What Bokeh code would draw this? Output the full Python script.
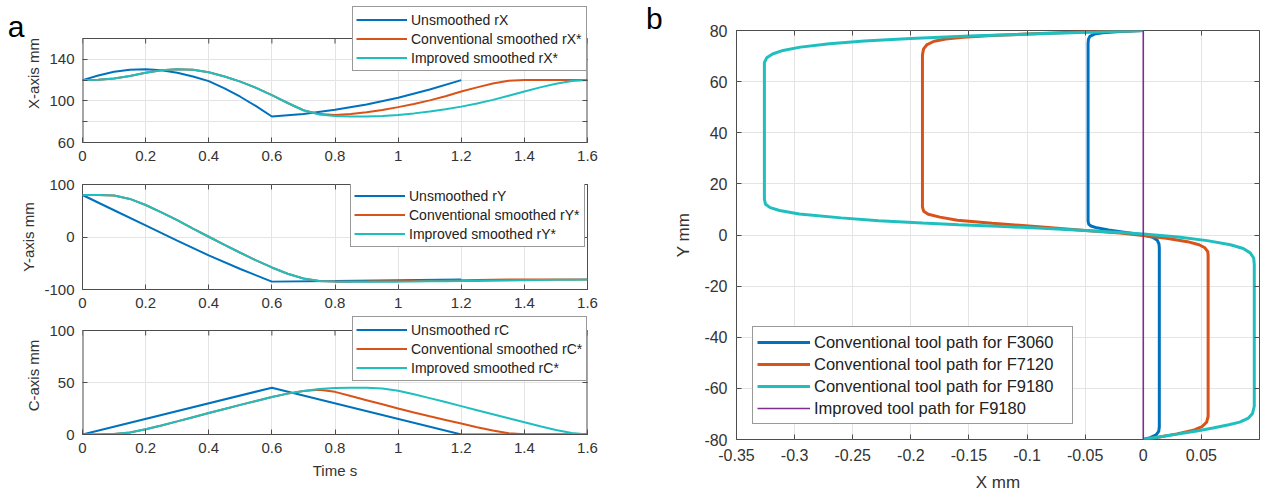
from bokeh.plotting import figure
from bokeh.models import (Range1d, FixedTicker, LinearAxis, Legend, LegendItem, Div,
                          BoxAnnotation, Span)
from bokeh.layouts import row, column
from bokeh.embed import file_html
from bokeh.resources import INLINE

# ---------------- data: panel a ----------------
time_ticks = [0, 0.2, 0.4, 0.6, 0.8, 1.0, 1.2, 1.4, 1.6]
time_labels = ["0", "0.2", "0.4", "0.6", "0.8", "1", "1.2", "1.4", "1.6"]

t_sm = [0, 0.05, 0.1, 0.15, 0.2, 0.25, 0.3, 0.35, 0.4, 0.45, 0.5, 0.55, 0.6, 0.65, 0.7,
        0.75, 0.8, 0.85, 0.9, 0.95, 1.0, 1.05, 1.1, 1.15, 1.2, 1.25, 1.3, 1.35, 1.4,
        1.45, 1.5, 1.55, 1.6]

t_x_un = [0, 0.05, 0.1, 0.15, 0.2, 0.25, 0.3, 0.35, 0.4, 0.45, 0.5, 0.55, 0.6, 0.7, 0.8,
          0.9, 1.0, 1.1, 1.2]
rx_un = [120, 124.5, 128, 130, 130.5, 129.5, 127, 123.5, 119, 112, 104, 95, 85, 87.5, 91.5,
         96.5, 103, 111, 120]
rx_conv = [120, 120.3, 121.5, 124, 127, 129.5, 130.5, 130, 127.5, 123.5, 118.5, 112.5, 105.5,
           98, 91, 87.3, 86.5, 87.3, 89, 91.3, 94, 97, 100.5, 104.5, 109, 113, 116.8, 119.4,
           120, 120, 120, 120, 120]
rx_impr = [120, 120.3, 121.5, 124, 127, 129.5, 130.5, 130, 127.5, 123.5, 118.5, 112.5, 105.5,
           98, 91, 87, 85.5, 85, 85, 85.5, 86.5, 88, 89.8, 92, 94.5, 97.5, 101, 105, 109,
           113, 116.5, 119.2, 120]

t_y_un = [0, 0.1, 0.2, 0.3, 0.4, 0.5, 0.6, 0.8, 1.0, 1.2]
ry_un = [80, 51, 22, -7, -35, -61, -85, -84, -82.5, -81]
ry_conv = [80, 80, 79, 72.5, 61, 47, 32, 16, 0.5, -15, -30, -44.5, -58, -70, -79, -84, -85,
           -85, -84.8, -84.5, -84.2, -83.8, -83.4, -83, -82.5, -82, -81.5, -81, -81, -81,
           -81, -81, -81]
ry_impr = [80, 80, 79, 72.5, 61, 47, 32, 16, 0.5, -15, -30, -44.5, -58, -70, -79, -84, -85,
           -85.2, -85.2, -85, -85, -84.8, -84.5, -84.2, -84, -83.6, -83.2, -82.8, -82.4, -82,
           -81.6, -81.2, -81]

t_c_un = [0, 0.6, 1.2, 1.6]
rc_un = [0, 45, 0, 0]
rc_conv = [0, 0, 0.4, 2, 5, 8.7, 12.6, 16.6, 20.6, 24.6, 28.5, 32.3, 36, 39.3, 41.8, 43, 41,
           37, 33, 29, 25, 21.2, 17.5, 14, 10.5, 7, 3.8, 1.3, 0.2, 0, 0, 0, 0]
rc_impr = [0, 0, 0.4, 2, 5, 8.7, 12.6, 16.6, 20.6, 24.6, 28.5, 32.3, 36, 39.3, 41.8, 43.8,
           44.8, 45, 45, 44.2, 42, 38.7, 35, 31.2, 27.3, 23.4, 19.5, 15.6, 11.7, 7.9, 4.4,
           1.5, 0]

x_axis_ticks = [60, 80, 100, 120, 140, 160]
x_axis_labels = ["60", "", "100", "", "140", ""]
y_axis_ticks = [-100, 0, 100]
y_axis_labels = ["-100", "0", "100"]
c_axis_ticks = [0, 50, 100]
c_axis_labels = ["0", "50", "100"]

# ---------------- data: panel b ----------------
x_f3060 = [0, -0.02, -0.035, -0.042, -0.046, -0.0472, -0.0475, -0.0475, -0.047, -0.045, -0.04,
           -0.03, -0.015, 0, 0.008, 0.012, 0.0135, 0.0138, 0.0138, 0.0133, 0.011, 0.006, 0]
y_f3060 = [80, 79.6, 79.1, 78.6, 77.7, 76.5, 75, 5.5, 4.3, 3.5, 2.8, 2.0, 1.0, 0, -0.9, -2.0,
           -3.5, -5, -75, -76.8, -78.2, -79.3, -80]
x_f7120 = [0, -0.03, -0.06, -0.1, -0.13, -0.155, -0.17, -0.18, -0.186, -0.189, -0.19, -0.19,
           -0.189, -0.185, -0.175, -0.16, -0.13, -0.09, -0.05, -0.02, 0, 0.02, 0.038, 0.048,
           0.053, 0.0555, 0.0558, 0.0558, 0.0545, 0.0505, 0.043, 0.029, 0.014, 0]
y_f7120 = [80, 79.7, 79.3, 78.6, 78.0, 77.4, 76.7, 75.8, 74.5, 72.8, 70.5, 11, 9.3, 8.1, 7.0,
           5.8, 4.6, 3.2, 1.8, 0.8, -0.2, -1.3, -2.6, -3.8, -5.0, -6.5, -8, -71, -73.2, -75,
           -76.4, -77.8, -79, -80]
x_f9180 = [0, -0.04, -0.09, -0.15, -0.2, -0.24, -0.27, -0.295, -0.31, -0.319, -0.324, -0.326,
           -0.326, -0.325, -0.321, -0.313, -0.296, -0.26, -0.2277, -0.19, -0.159, -0.12,
           -0.0907, -0.05, -0.02, 0, 0.03, 0.055, 0.075, 0.086, 0.092, 0.095, 0.0955, 0.0955,
           0.094, 0.0905, 0.083, 0.0736, 0.06, 0.046, 0.028, 0.012, 0]
y_f9180 = [80, 79.4, 78.7, 77.8, 76.9, 75.9, 74.8, 73.5, 72.2, 70.8, 69.3, 67.5, 14, 12, 10.7,
           9.6, 8.2, 6.7, 5.6, 4.7, 4.0, 3.3, 2.7, 1.8, 1.0, 0.4, -0.8, -2.2, -3.8, -5.3, -7,
           -9, -11.5, -67, -69.8, -71.6, -73.2, -74.2, -75.5, -76.7, -78, -79.1, -80]
x_impr = [0, 0]
y_impr = [-80, 80]

b_x_ticks = [-0.35, -0.3, -0.25, -0.2, -0.15, -0.1, -0.05, 0, 0.05]
b_x_labels = ["-0.35", "-0.3", "-0.25", "-0.2", "-0.15", "-0.1", "-0.05", "0", "0.05"]
b_y_ticks = [-80, -60, -40, -20, 0, 20, 40, 60, 80]
b_y_labels = ["-80", "-60", "-40", "-20", "0", "20", "40", "60", "80"]

# ---------------- styles ----------------
FONT = "Liberation Sans"
AXC = "#4d4d4d"
TXT = "#333333"
GRID = "#e4e4e4"
BLUE = "#0072BD"
ORANGE = "#D95319"
CYAN = "#1FBFBF"
PURPLE = "#7E2F8E"


def style(p, xt, xl, yt, yl, fs, std):
    p.background_fill_color = "white"
    p.border_fill_color = "white"
    p.outline_line_color = AXC
    p.outline_line_width = 1
    for ax in (p.below[0], p.left[0]):
        ax.axis_line_color = None
        ax.major_tick_in = 5
        ax.major_tick_out = 0
        ax.major_tick_line_color = AXC
        ax.minor_tick_line_color = None
        ax.major_label_text_font = FONT
        ax.major_label_text_font_size = fs
        ax.major_label_text_color = TXT
        ax.axis_label_text_font = FONT
        ax.axis_label_text_font_style = "normal"
        ax.axis_label_text_color = TXT
        ax.major_label_standoff = std
    p.below[0].ticker = FixedTicker(ticks=xt)
    p.below[0].major_label_overrides = dict(zip(xt, xl))
    p.left[0].ticker = FixedTicker(ticks=yt)
    p.left[0].major_label_overrides = dict(zip(yt, yl))
    p.xgrid[0].ticker = FixedTicker(ticks=xt)
    p.ygrid[0].ticker = FixedTicker(ticks=yt)
    for g in (p.xgrid[0], p.ygrid[0]):
        g.grid_line_color = GRID
        g.grid_line_width = 1


def tick_axis(p, side, ticks):
    a = LinearAxis(ticker=FixedTicker(ticks=ticks), axis_line_color=None,
                   major_tick_in=5, major_tick_out=0, major_tick_line_color=AXC,
                   minor_tick_line_color=None, major_label_text_font_size="1px",
                   major_label_text_color=None, major_label_standoff=0)
    p.add_layout(a, side)


def boxed(p, x0, x1, y0, y1, unit_per_px, top_ticks):
    # visible axes box inside a frame that is taller than the box (room for the legend)
    p.outline_line_color = None
    p.below[0].axis_line_color = AXC
    p.segment(x0=[x0, x1], y0=[y0, y0], x1=[x0, x1], y1=[y1, y1], line_color=AXC,
              line_width=2)
    n = len(top_ticks)
    p.segment(x0=top_ticks, y0=[y1] * n, x1=top_ticks, y1=[y1 - 5 * unit_per_px] * n,
              line_color=AXC, line_width=1)
    p.add_layout(BoxAnnotation(bottom=y1, fill_color="white", fill_alpha=1.0,
                               line_alpha=0))
    p.add_layout(Span(location=y1, dimension="width", line_color=AXC, line_width=1))


def make_legend(p, items, loc, fs, lw, lh, gw, pad):
    leg = Legend(items=[LegendItem(label=l, renderers=[r]) for l, r in items],
                 location=loc, margin=0, padding=pad, spacing=0,
                 label_height=lh, glyph_height=lh, glyph_width=gw, label_standoff=4,
                 label_width=lw, label_text_font=FONT, label_text_font_size=fs,
                 label_text_color="#222222", border_line_color="#333333",
                 border_line_width=1, background_fill_color="white",
                 background_fill_alpha=1.0)
    p.add_layout(leg)


common = dict(output_backend="svg", toolbar_location=None, width=640,
              min_border_left=82, min_border_right=53)

# --- X-axis subplot (frame extended upward so the legend can overhang the box)
BOX_H1 = 104.0
u1 = (160 - 60) / BOX_H1
p1 = figure(height=172, x_range=Range1d(0, 1.6), y_range=Range1d(60, 160 + 34 * u1),
            min_border_top=4, min_border_bottom=30, **common)
style(p1, time_ticks, time_labels, x_axis_ticks, x_axis_labels, "15px", 8)
p1.left[0].axis_label = "X-axis mm"
p1.left[0].axis_label_text_font_size = "15px"
p1.left[0].axis_label_standoff = 4
# panel letter "a" as a lone horizontal tick label on an outer left axis
a_pos = [160 + 12.5 * u1]
p1.add_layout(LinearAxis(ticker=FixedTicker(ticks=a_pos), major_label_overrides={a_pos[0]: "a"},
                         axis_line_color=None, major_tick_line_color=None,
                         minor_tick_line_color=None, major_label_text_font=FONT,
                         major_label_text_font_size="30px", major_label_text_color="black",
                         major_label_standoff=-8), "left")
tick_axis(p1, "right", x_axis_ticks)
a1 = p1.line(t_x_un, rx_un, line_color=BLUE, line_width=2)
a2 = p1.line(t_sm, rx_conv, line_color=ORANGE, line_width=2)
a3 = p1.line(t_sm, rx_impr, line_color=CYAN, line_width=2)
boxed(p1, 0, 1.6, 60, 160, u1, time_ticks)
make_legend(p1, [("Unsmoothed rX", a1), ("Conventional smoothed rX*", a2),
                 ("Improved smoothed rX*", a3)], (270, 71), "14px", 172, 19, 51, 3)

# --- Y-axis subplot
p2 = figure(height=143, x_range=Range1d(0, 1.6), y_range=Range1d(-100, 100),
            min_border_top=12, min_border_bottom=26, **common)
style(p2, time_ticks, time_labels, y_axis_ticks, y_axis_labels, "15px", 8)
p2.left[0].axis_label = "Y-axis mm"
p2.left[0].axis_label_text_font_size = "15px"
p2.left[0].axis_label_standoff = 4
tick_axis(p2, "right", y_axis_ticks)
tick_axis(p2, "above", time_ticks)
b1 = p2.line(t_y_un, ry_un, line_color=BLUE, line_width=2)
b2 = p2.line(t_sm, ry_conv, line_color=ORANGE, line_width=2)
b3 = p2.line(t_sm, ry_impr, line_color=CYAN, line_width=2)
make_legend(p2, [("Unsmoothed rY", b1), ("Conventional smoothed rY*", b2),
                 ("Improved smoothed rY*", b3)], (268, 42), "14px", 172, 19, 51, 3)

# --- C-axis subplot (frame extended upward)
BOX_H3 = 104.0
u3 = (100 - 0) / BOX_H3
p3 = figure(height=182, x_range=Range1d(0, 1.6), y_range=Range1d(0, 100 + 14 * u3),
            min_border_top=1, min_border_bottom=63, **common)
style(p3, time_ticks, time_labels, c_axis_ticks, c_axis_labels, "15px", 8)
p3.left[0].axis_label = "C-axis mm"
p3.left[0].axis_label_text_font_size = "15px"
p3.left[0].axis_label_standoff = 4
p3.below[0].axis_label = "Time s"
p3.below[0].axis_label_text_font_size = "15px"
p3.below[0].axis_label_standoff = 6
tick_axis(p3, "right", c_axis_ticks)
c1 = p3.line(t_c_un, rc_un, line_color=BLUE, line_width=2)
c2 = p3.line(t_sm, rc_conv, line_color=ORANGE, line_width=2)
c3 = p3.line(t_sm, rc_impr, line_color=CYAN, line_width=2)
boxed(p3, 0, 1.6, 0, 100, u3, time_ticks)
make_legend(p3, [("Unsmoothed rC", c1), ("Conventional smoothed rC*", c2),
                 ("Improved smoothed rC*", c3)], (270, 53), "14px", 172, 19, 51, 3)

# --- panel b
p4 = figure(width=598, height=497, x_range=Range1d(-0.35, 0.1), y_range=Range1d(-80, 80),
            output_backend="svg", toolbar_location=None,
            min_border_left=72, min_border_right=3, min_border_top=30, min_border_bottom=58)
style(p4, b_x_ticks, b_x_labels, b_y_ticks, b_y_labels, "16px", 9)
p4.below[0].axis_label = "X mm"
p4.left[0].axis_label = "Y mm"
p4.below[0].axis_label_text_font_size = "17px"
p4.left[0].axis_label_text_font_size = "17px"
p4.below[0].axis_label_standoff = 9
p4.left[0].axis_label_standoff = 8
tick_axis(p4, "right", b_y_ticks)
tick_axis(p4, "above", b_x_ticks)
d1 = p4.line(x_f3060, y_f3060, line_color=BLUE, line_width=3)
d2 = p4.line(x_f7120, y_f7120, line_color=ORANGE, line_width=3)
d3 = p4.line(x_f9180, y_f9180, line_color=CYAN, line_width=3)
d4 = p4.line(x_impr, y_impr, line_color=PURPLE, line_width=1.6)
make_legend(p4, [("Conventional tool path for F3060", d1),
                 ("Conventional tool path for F7120", d2),
                 ("Conventional tool path for F9180", d3),
                 ("Improved tool path for F9180", d4)], (16, 15), "16.5px", 254, 22, 53, 4)

div_b = Div(text="<div style=\"padding:4px 0 0 6px;font-family:'Liberation Sans';"
                 "font-size:30px;line-height:30px;color:#000;\">b</div>",
            width=24, height=60, margin=0)

layout = row(column(p1, p2, p3), div_b, p4)
open("out.html", "w").write(file_html(layout, INLINE))
